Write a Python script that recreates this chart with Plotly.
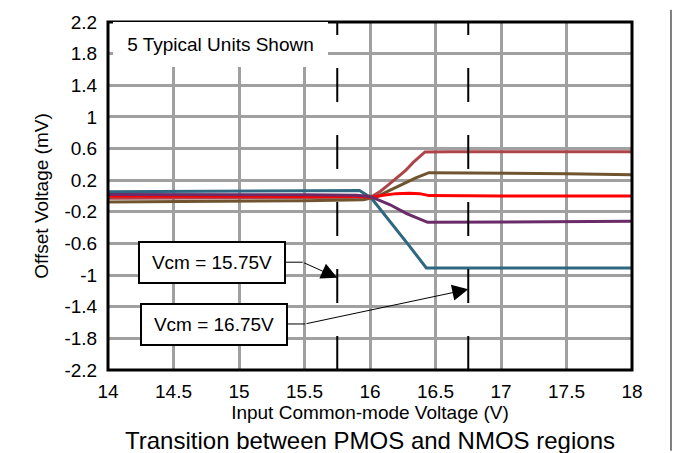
import plotly.graph_objects as go

# Offset voltage (mV) against input common-mode voltage (V) for five units
vcm_u1 = [14.0, 14.5, 15.0, 15.5, 15.92, 16.01, 16.1, 16.2, 16.3, 16.43, 17.0, 17.5, 18.0]
vos_u1 = [0.055, 0.06, 0.062, 0.066, 0.07, -0.025, -0.21, -0.42, -0.63, -0.91, -0.91, -0.91, -0.91]

vcm_u2 = [14.0, 15.0, 15.5, 15.95, 16.02, 16.08, 16.14, 16.2, 16.27, 16.33, 16.42, 16.6, 17.0, 17.5, 18.0]
vos_u2 = [-0.03, -0.025, -0.02, -0.015, 0.0, 0.06, 0.14, 0.22, 0.32, 0.425, 0.557, 0.56, 0.56, 0.562, 0.56]

vcm_u3 = [14.0, 15.0, 15.5, 15.95, 16.05, 16.15, 16.25, 16.35, 16.45, 17.0, 17.5, 18.0]
vos_u3 = [-0.075, -0.07, -0.06, -0.046, -0.01, 0.07, 0.15, 0.23, 0.295, 0.29, 0.28, 0.27]

vcm_u4 = [14.0, 15.0, 15.5, 15.9, 16.02, 16.1, 16.2, 16.3, 16.38, 16.45, 17.0, 17.5, 18.0]
vos_u4 = [0.0, 0.0, 0.0, -0.005, -0.015, 0.01, 0.03, 0.036, 0.03, 0.005, 0.0, 0.0, 0.0]

vcm_u5 = [14.0, 15.0, 15.5, 15.9, 16.0, 16.15, 16.28, 16.44, 17.0, 17.5, 18.0]
vos_u5 = [0.02, 0.02, 0.015, 0.01, -0.006, -0.108, -0.222, -0.333, -0.33, -0.325, -0.32]

x_tickvals = [14, 14.5, 15, 15.5, 16, 16.5, 17, 17.5, 18]
x_ticktext = ["14", "14.5", "15", "15.5", "16", "16.5", "17", "17.5", "18"]
y_tickvals = [2.2, 1.8, 1.4, 1.0, 0.6, 0.2, -0.2, -0.6, -1.0, -1.4, -1.8, -2.2]
y_ticktext = ["2.2", "1.8", "1.4", "1", "0.6", "0.2", "-0.2", "-0.6", "-1", "-1.4", "-1.8", "-2.2"]

# Common-mode voltages marked with dashed lines and their callouts
vcm_marks = [15.75, 16.75]
vcm_mark_labels = ["Vcm = 15.75V", "Vcm = 16.75V"]
vcm_mark_tip_vos = [-1.033, -1.18]

FONT = "Arial, Liberation Sans, Helvetica, sans-serif"

units = [
    (vcm_u1, vos_u1, "#2E6880"),
    (vcm_u2, vos_u2, "#AD4449"),
    (vcm_u3, vos_u3, "#705430"),
    (vcm_u4, vos_u4, "#FF0000"),
    (vcm_u5, vos_u5, "#6B2B68"),
]

fig = go.Figure()
for xs, ys, color in units:
    fig.add_trace(go.Scatter(x=xs, y=ys, mode="lines",
                             line=dict(color=color, width=3),
                             showlegend=False, hoverinfo="skip"))

shapes = []
# dashed markers at the two callout voltages
for v in vcm_marks:
    shapes.append(dict(type="line", xref="x", yref="y", x0=v, x1=v, y0=-2.2, y1=2.2,
                       line=dict(color="black", width=2, dash="34px,33px"), layer="above"))

# callout boxes, elbow leaders and arrows
box_centers = [(14.794, -0.840), (14.809, -1.622)]
box_right = [15.359, 15.374]
elbows = [(15.486, -0.837), (15.504, -1.618)]
annotations = []
for label, (bx, by), rx, (ex, ey), v, tip in zip(vcm_mark_labels, box_centers, box_right,
                                                 elbows, vcm_marks, vcm_mark_tip_vos):
    shapes.append(dict(type="line", xref="x", yref="y", x0=rx, x1=ex, y0=ey, y1=ey,
                       line=dict(color="black", width=1), layer="above"))
    annotations.append(dict(x=v, y=tip, xref="x", yref="y", ax=ex, ay=ey, axref="x", ayref="y",
                            text="", showarrow=True, arrowhead=2, arrowsize=3.2,
                            arrowwidth=1, arrowcolor="black", standoff=0))
    annotations.append(dict(x=bx, y=by, xref="x", yref="y", text=label, showarrow=False,
                            font=dict(family=FONT, size=19, color="black"),
                            bgcolor="white", bordercolor="black", borderwidth=2, borderpad=0,
                            width=144, height=39, xanchor="center", yanchor="middle"))

annotations.append(dict(x=14.859, y=1.917, xref="x", yref="y", text="5 Typical Units Shown",
                        showarrow=False, font=dict(family=FONT, size=19, color="black"),
                        bgcolor="white", borderwidth=0, borderpad=0, width=215, height=45,
                        xanchor="center", yanchor="middle"))

annotations.append(dict(x=0.5, y=0, xref="paper", yref="paper", yshift=-70,
                        text="Transition between PMOS and NMOS regions", showarrow=False,
                        font=dict(family=FONT, size=24, color="black"),
                        xanchor="center", yanchor="middle"))

# plot frame and page edge
shapes.append(dict(type="rect", xref="paper", yref="paper", x0=0, x1=1, y0=0, y1=1,
                   line=dict(color="black", width=3), layer="above"))
shapes.append(dict(type="line", xref="paper", yref="paper", x0=1.0744, x1=1.0744,
                   y0=-0.232, y1=1.035, line=dict(color="black", width=1), layer="above"))

fig.update_layout(
    width=673, height=453,
    margin=dict(l=108, r=41, t=12, b=83),
    paper_bgcolor="white", plot_bgcolor="white",
    font=dict(family=FONT, size=19, color="black"),
    shapes=shapes, annotations=annotations,
    xaxis=dict(range=[14, 18], tickvals=x_tickvals, ticktext=x_ticktext,
               showgrid=True, gridcolor="#A0A0A0", gridwidth=2.5, zeroline=False,
               ticks="outside", ticklen=4, tickcolor="rgba(0,0,0,0)",
               tickfont=dict(family=FONT, size=19),
               title=dict(text="Input Common-mode Voltage (V)", standoff=1,
                          font=dict(family=FONT, size=19))),
    yaxis=dict(range=[-2.2, 2.2], tickvals=y_tickvals, ticktext=y_ticktext,
               showgrid=True, gridcolor="#A0A0A0", gridwidth=2.5, zeroline=False,
               ticks="outside", ticklen=6, tickcolor="rgba(0,0,0,0)",
               tickfont=dict(family=FONT, size=19),
               title=dict(text="Offset Voltage (mV)", standoff=10,
                          font=dict(family=FONT, size=19))),
)

fig.write_html("out.html")
